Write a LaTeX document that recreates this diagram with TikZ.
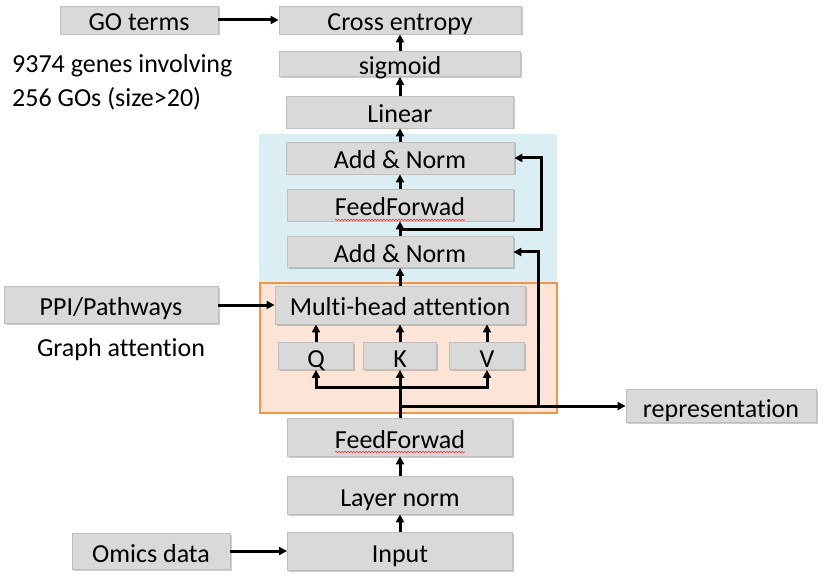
\documentclass[tikz,border=0pt]{standalone}
\usepackage{fontspec}
\setmainfont{Carlito}[Ligatures=NoCommon]
\usepackage{xcolor}
\usetikzlibrary{arrows.meta,positioning,calc,shadows,decorations.pathmorphing}

\definecolor{boxgray}{HTML}{D9D9D9}
\definecolor{boxline}{HTML}{BFBFBF}
\definecolor{encblue}{HTML}{DAEEF3}
\definecolor{gatfill}{HTML}{FCE4D6}
\definecolor{gatline}{HTML}{F0954A}

\begin{document}
\begin{tikzpicture}[
  x=1pt, y=-1pt,
  blk/.style 2 args={draw=boxline, line width=0.8pt, fill=boxgray, rectangle, inner sep=0pt, minimum width=#1, minimum height=#2, text height=22pt, text depth=0pt, font=\fontsize{26}{31}\selectfont, drop shadow={shadow xshift=1.5pt, shadow yshift=-1.5pt, fill=black, opacity=0.2}},
  txt/.style={font=\fontsize{26}{34}\selectfont, align=left, inner sep=0pt},
  arr/.style={-{Triangle[length=8pt, width=8pt]}, line width=3pt},
  spell/.style={red!80, line width=0.6pt, decorate, decoration={snake, amplitude=0.8pt, segment length=3pt}}
]
\useasboundingbox (0,0) rectangle (827,577);

% encoder and graph attention regions
\fill[encblue] (259,134) rectangle (557,283);
\draw[gatline, fill=gatfill, line width=1.2pt] (260,283) rectangle (557,413);

% output head
\node[blk={158pt}{28pt}] (go) at (139,20) {GO terms};
\node[blk={242pt}{28pt}] (ce) at (400,20) {Cross entropy};
\node[blk={241pt}{25pt}] (sig) at (400,64) {sigmoid};
\node[blk={227pt}{32pt}] (lin) at (400,112) {Linear};

% encoder block
\node[blk={228pt}{32pt}] (an2) at (400,158) {Add \& Norm};
\node[blk={226pt}{32pt}] (ff2) at (400,205) {FeedForwad};
\node[blk={226pt}{31pt}] (an1) at (400,252) {Add \& Norm};
\node[blk={250pt}{38pt}] (mha) at (400,305) {Multi-head attention};
\node[blk={75pt}{27pt}] (q) at (316,356) {Q};
\node[blk={73pt}{27pt}] (k) at (400,356) {K};
\node[blk={75pt}{27pt}] (v) at (487,356) {V};

% input stem
\node[blk={225pt}{38pt}] (ff1) at (400,437) {FeedForwad};
\node[blk={225pt}{38pt}] (ln) at (400,495) {Layer norm};
\node[blk={225pt}{38pt}] (inp) at (400,551) {Input};

% side inputs / outputs
\node[blk={158pt}{36pt}] (omics) at (151,551) {Omics data};
\node[blk={214pt}{37pt}] (ppi) at (111,305) {PPI/Pathways};
\node[blk={190pt}{33pt}] (rep) at (721,406) {representation};

\node[txt, anchor=west] (goinfo) at (12,82) {9374 genes involving\\256 GOs (size>20)};
\node[txt] (gatlbl) at (121,350) {Graph attention};

% spell-check marks
\draw[spell] ([xshift=-65pt, yshift=-4pt]ff2.base) -- ([xshift=65pt, yshift=-4pt]ff2.base);
\draw[spell] ([xshift=-65pt, yshift=-4pt]ff1.base) -- ([xshift=65pt, yshift=-4pt]ff1.base);

\coordinate (bus) at (400,387);
\coordinate (split) at (400,406);
\coordinate (res1) at (538,406);
\coordinate (split2) at (400,230);
\coordinate (res2) at (541,230);

\draw[arr] (omics) -- (inp);
\draw[arr] (inp) -- (ln);
\draw[arr] (ln) -- (ff1);
\draw[arr] (ff1) -- (k);
\draw[arr] (bus) -| (q);
\draw[arr] (bus) -| (v);
\draw[arr] (q.north) -- (q.north |- mha.south);
\draw[arr] (k) -- (mha);
\draw[arr] (v.north) -- (v.north |- mha.south);
\draw[arr] (ppi) -- (mha);
\draw[arr] (mha) -- (an1);
\draw[arr] (split) -- (rep);
\draw[arr] (res1) |- (an1);
\draw[arr] (an1) -- (ff2);
\draw[arr] (split2) -- (res2) |- (an2);
\draw[arr] (ff2) -- (an2);
\draw[arr] (an2) -- (lin);
\draw[arr] (lin) -- (sig);
\draw[arr] (sig) -- (ce);
\draw[arr] (go) -- (ce);

\end{tikzpicture}
\end{document}
